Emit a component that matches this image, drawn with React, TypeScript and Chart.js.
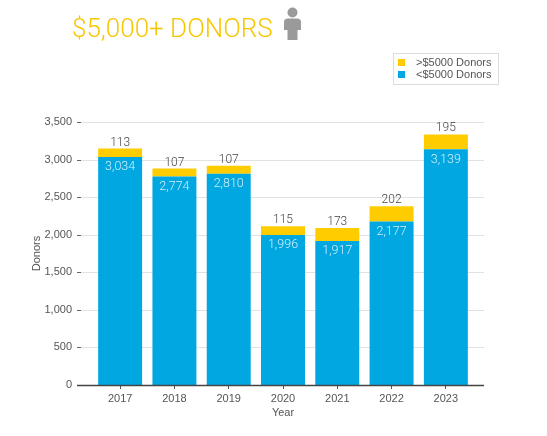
import React, { useEffect, useRef } from "react";
import { Chart, registerables } from "chart.js";

Chart.register(...registerables);

const years = ["2017", "2018", "2019", "2020", "2021", "2022", "2023"];
const under5000 = [3034, 2774, 2810, 1996, 1917, 2177, 3139];
const over5000 = [113, 107, 107, 115, 173, 202, 195];
const yTicks = [0, 500, 1000, 1500, 2000, 2500, 3000, 3500];

const BLUE = "#00A7E1";
const YELLOW = "#FFCC00";
const TEXT = "#555555";
const FONT = "'Liberation Sans', Arial, sans-serif";

const fmt = (v: number) => v.toLocaleString("en-US");

const decorPlugin = {
  id: "decor",
  beforeDatasetsDraw(chart: any) {
    const { ctx, chartArea, scales } = chart;
    const y = scales.y;
    const x0 = chartArea.left - 16;
    const x1 = chartArea.right + 11;
    ctx.save();
    ctx.lineWidth = 1;
    yTicks.forEach((v) => {
      if (v === 0) return;
      const py = Math.round(y.getPixelForValue(v)) + 0.5;
      ctx.strokeStyle = "#e2e2e2";
      ctx.beginPath();
      ctx.moveTo(x0 + 3, py);
      ctx.lineTo(x1, py);
      ctx.stroke();
      ctx.strokeStyle = "#666";
      ctx.beginPath();
      ctx.moveTo(x0, py);
      ctx.lineTo(x0 + 4, py);
      ctx.stroke();
    });
    ctx.restore();
  },
  afterDatasetsDraw(chart: any) {
    const { ctx, chartArea, scales } = chart;
    const y = scales.y;
    const x0 = chartArea.left - 16;
    const x1 = chartArea.right + 11;
    ctx.save();
    // axis line
    const py = Math.round(y.getPixelForValue(0)) + 0.5;
    ctx.strokeStyle = "#444";
    ctx.lineWidth = 1.5;
    ctx.beginPath();
    ctx.moveTo(x0, py);
    ctx.lineTo(x1, py);
    ctx.stroke();

    // data labels
    const m0 = chart.getDatasetMeta(0);
    const m1 = chart.getDatasetMeta(1);
    ctx.textAlign = "center";
    m0.data.forEach((bar: any, i: number) => {
      ctx.fillStyle = "rgba(255,255,255,0.82)";
      ctx.font = `300 12.5px Roboto, ${FONT}`;
      ctx.textBaseline = "top";
      ctx.fillText(fmt(under5000[i]), bar.x, bar.y + 4);
    });
    m1.data.forEach((bar: any, i: number) => {
      ctx.fillStyle = "#444";
      ctx.font = `300 12px Roboto, ${FONT}`;
      ctx.textBaseline = "alphabetic";
      ctx.fillText(fmt(over5000[i]), bar.x, bar.y - 3);
    });

    // title
    ctx.textAlign = "left";
    ctx.textBaseline = "alphabetic";
    ctx.fillStyle = "#F7C600";
    ctx.font = `300 26px Roboto, ${FONT}`;
    ctx.fillText("$5,000+ DONORS", 72, 37);

    // person icon
    ctx.fillStyle = "#9a9a9a";
    ctx.beginPath();
    ctx.arc(292.5, 12.5, 5, 0, Math.PI * 2);
    ctx.fill();
    ctx.beginPath();
    ctx.moveTo(284, 30);
    ctx.lineTo(284, 22);
    ctx.quadraticCurveTo(284, 18.5, 288, 18.5);
    ctx.lineTo(297, 18.5);
    ctx.quadraticCurveTo(301, 18.5, 301, 22);
    ctx.lineTo(301, 30);
    ctx.lineTo(297.5, 30);
    ctx.lineTo(297.5, 40);
    ctx.lineTo(287.5, 40);
    ctx.lineTo(287.5, 30);
    ctx.closePath();
    ctx.fill();

    // legend
    ctx.strokeStyle = "#dcdcdc";
    ctx.lineWidth = 1;
    ctx.strokeRect(393.5, 53.5, 105, 31);
    const items = [chart.data.datasets[1], chart.data.datasets[0]];
    ctx.font = `11px ${FONT}`;
    ctx.textBaseline = "middle";
    items.forEach((ds: any, k: number) => {
      const cy = 62.5 + k * 12;
      ctx.fillStyle = ds.backgroundColor;
      ctx.fillRect(398, cy - 3.5, 7, 7);
      ctx.fillStyle = TEXT;
      ctx.fillText(ds.label, 416, cy);
    });
    ctx.restore();
  },
};

export default function App() {
  const ref = useRef<HTMLCanvasElement>(null);
  useEffect(() => {
    document.body.style.margin = "0";
    const chart = new Chart(ref.current!, {
      type: "bar",
      data: {
        labels: years,
        datasets: [
          {
            label: "<$5000 Donors",
            data: under5000,
            backgroundColor: BLUE,
            barPercentage: 0.81,
            categoryPercentage: 1,
          },
          {
            label: ">$5000 Donors",
            data: over5000,
            backgroundColor: YELLOW,
            barPercentage: 0.81,
            categoryPercentage: 1,
          },
        ],
      },
      options: {
        animation: false,
        responsive: false,
        layout: { padding: { top: 122, right: 74, left: 0, bottom: 0 } },
        plugins: { legend: { display: false }, tooltip: { enabled: false } },
        scales: {
          x: {
            stacked: true,
            grid: {
              display: true,
              offset: false,
              drawOnChartArea: false,
              drawTicks: true,
              tickLength: 4,
              color: "#555",
            },
            border: { display: false },
            ticks: { color: TEXT, font: { family: FONT, size: 11 }, padding: 3 },
            title: {
              display: true,
              text: "Year",
              color: TEXT,
              font: { family: FONT, size: 11 },
              padding: { top: 0, bottom: 16 },
            },
            afterFit: (s: any) => {
              s.height = 51;
            },
          },
          y: {
            stacked: true,
            min: 0,
            max: 3500,
            grid: { display: false, drawTicks: false },
            border: { display: false },
            ticks: {
              stepSize: 500,
              color: TEXT,
              font: { family: FONT, size: 11 },
              padding: 21,
              callback: (v: any) => fmt(Number(v)),
            },
            title: {
              display: true,
              text: "Donors",
              color: TEXT,
              font: { family: FONT, size: 11 },
              padding: { top: 30, bottom: 0 },
            },
            afterFit: (s: any) => {
              s.width = 93;
            },
          },
        },
      },
      plugins: [decorPlugin],
    });
    return () => chart.destroy();
  }, []);
  return (
    <div style={{ width: 547, height: 436, background: "#fff" }}>
      <canvas ref={ref} width={547} height={436} />
    </div>
  );
}
